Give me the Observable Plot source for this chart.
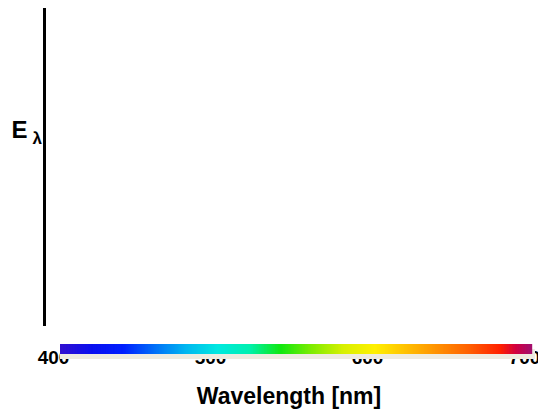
<!DOCTYPE html>
<html>
<head>
<meta charset="utf-8">
<script src="https://cdn.jsdelivr.net/npm/d3@7"></script>
<script src="https://cdn.jsdelivr.net/npm/@observablehq/plot@0.6"></script>
<style>
  html, body { margin: 0; padding: 0; background: #fff; }
  svg { display: block; }
</style>
</head>
<body>
<div id="chart"></div>
<script>
const xTicks = [400, 500, 600, 700];
const stopWavelengths = [400, 420, 440, 460, 480, 500, 520, 540, 560, 580, 600, 620, 640, 660, 680, 690, 700];
const stopColors = ["#3010d0", "#0a10f0", "#0020ff", "#0070f8", "#00b8f0", "#00e8e0", "#00f0b0", "#10e810",
  "#80ec00", "#d8f000", "#fff000", "#ffc000", "#ff9000", "#ff6000", "#ff2000", "#d00040", "#a01070"];
const xLabel = "Wavelength [nm]";
const yLabel = "E";
const ySub = "λ";

const steps = d3.range(400, 700, 1);
const font = "Liberation Sans, Arial, sans-serif";

const plot = Plot.plot({
  width: 538,
  height: 417,
  marginLeft: 60,
  marginRight: 7,
  marginTop: 8,
  marginBottom: 91,
  style: {fontFamily: font, background: "#fff"},
  x: {domain: [400, 700], axis: null},
  y: {domain: [0, 1], axis: null},
  color: {type: "linear", domain: stopWavelengths, range: stopColors, interpolate: "rgb"},
  marks: [
    Plot.axisX(xTicks, {tickSize: 0, tickPadding: 24, fontSize: 19, fontWeight: "bold", fill: "#000", dx: -7, tickFormat: d => String(d)}),
    Plot.rect([{a: 400, b: 700}], {x1: "a", x2: "b", fill: "#eeebe0", insetRight: -4, insetTop: 308, dy: 33}),
    Plot.rect(steps, {x1: d => d, x2: d => d + 1, fill: d => d, insetTop: 308, insetRight: -1.2, dy: 28}),
    Plot.ruleX([400], {dx: -16, stroke: "#000", strokeWidth: 3}),
    Plot.text([xLabel], {text: d => d, frameAnchor: "bottom", lineAnchor: "bottom", dy: 77, dx: -7, fontSize: 23, fontWeight: "bold", fill: "#000"}),
    Plot.text([yLabel], {text: d => d, frameAnchor: "left", textAnchor: "start", lineAnchor: "bottom", dx: -49, dy: -30, fontSize: 24, fontWeight: "bold", fill: "#000"}),
    Plot.text([ySub], {text: d => d, frameAnchor: "left", textAnchor: "start", lineAnchor: "bottom", dx: -28, dy: -24, fontSize: 17, fontWeight: "bold", fill: "#000"})
  ]
});
document.getElementById("chart").appendChild(plot);
</script>
</body>
</html>
